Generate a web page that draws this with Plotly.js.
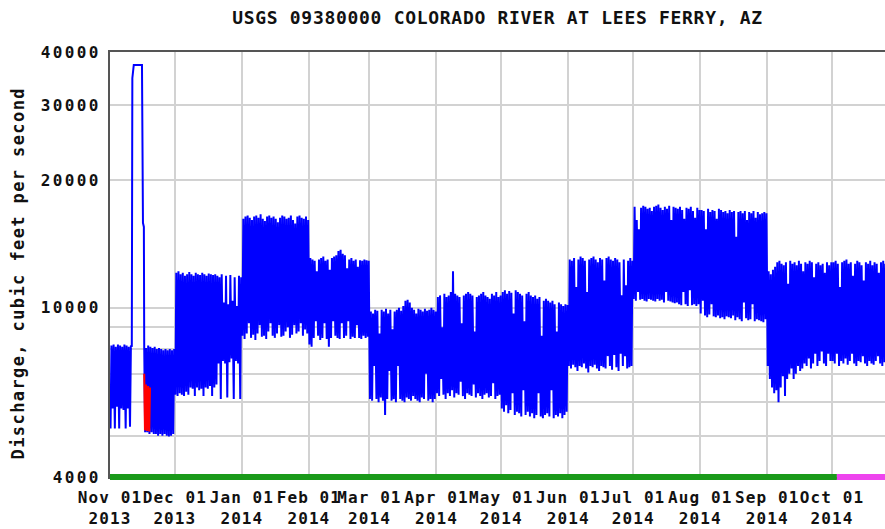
<!DOCTYPE html>
<html><head><meta charset="utf-8">
<script src="https://cdn.plot.ly/plotly-3.0.1.min.js"></script>
<style>
html,body{margin:0;padding:0;overflow:hidden;background:#fff}
#chart .xtick text{letter-spacing:1.1px}
#chart .ytick text{letter-spacing:2.4px}
#chart .gtitle{letter-spacing:0.7px}
#chart .annotation-text{letter-spacing:1.4px}
</style></head><body><div id="chart"></div>
<script>
const stationTitle = 'USGS 09380000 COLORADO RIVER AT LEES FERRY, AZ';
const yTitle = 'Discharge, cubic feet per second';

const monthStarts = ['2013-11-01','2013-12-01','2014-01-01','2014-02-01','2014-03-01','2014-04-01',
  '2014-05-01','2014-06-01','2014-07-01','2014-08-01','2014-09-01','2014-10-01'];
const monthLabels = ['Nov 01<br>2013','Dec 01<br>2013','Jan 01<br>2014','Feb 01<br>2014','Mar 01<br>2014',
  'Apr 01<br>2014','May 01<br>2014','Jun 01<br>2014','Jul 01<br>2014','Aug 01<br>2014','Sep 01<br>2014','Oct 01<br>2014'];
const yTickVals = [4000,5000,6000,7000,8000,9000,10000,20000,30000,40000];
const yTickText = ['4000','','','','','','10000','20000','30000','40000'];
const xRange = ['2013-11-01 00:00','2014-10-25 12:00'];

const novMax = [8150,8200,8100,8200,8150,8100,8200,8150,8100,8150, null,null,null,null,null,null,
  8050,8150,8100,8050,8100,8000,8050,8000,7950,8000,7950,8000,7950,8000];
const novMin = [5200,5800,5200,5850,5200,5800,5750,5200,5800,5250, null,null,null,null,null,null,
  5100,5100,5050,5100,5050,5050,5000,5050,5000,5050,5000,4980,5000,5050];
const decMax = [12100,12200,12000,12100,11900,12000,12150,12000,11900,12100,12000,11950,12100,12000,11900,12050,
  12000,11950,12000,11900,11800,12000,10300,11900,10200,11950,10400,11800,10100,11900,11800];
const decMin = [6250,6200,6300,6250,6200,6350,6250,6500,6450,6200,6500,6400,6450,6200,6500,6450,
  6550,6200,6500,6600,7400,6100,7500,7400,6150,7450,7600,6100,7500,7400,6100];
const janMax = [16200,16400,16500,16300,16100,16400,16500,16300,16600,16200,16000,16400,16500,16300,16400,16200,
  15900,16300,16500,16400,16200,16300,16500,16100,15800,16400,16500,16300,16200,16400,16100];
const janMin = [8600,8450,8700,9200,8500,8650,8400,8700,9100,8550,8600,8450,8800,9200,8600,8500,
  8700,9100,8550,8600,8800,9000,8500,8650,9100,8700,8800,9200,8600,8900,8700];
const febMax = [13100,13000,12900,12200,13000,13100,13200,12900,13000,12300,13100,13200,13300,13600,
  13700,13400,13300,12400,13000,13100,12900,13000,12500,12950,12900,13000,12950,12900];
const febMin = [8200,8100,8500,9300,8600,8400,8500,9200,8450,8100,8500,9300,8600,8500,
  8450,9200,8500,8600,9300,8450,8550,8500,9100,8500,8450,8600,8500,8550];
const marMax = [9800,9700,9900,9850,8700,9900,9800,9950,9700,9900,8900,9800,9900,10000,9850,10100,
  10400,10450,10300,10000,9900,9700,9950,9900,9800,9950,9850,9900,10000,9900,9800];
const marMin = [6100,6050,7300,6100,6000,6150,6050,5600,6100,7100,6050,6100,6000,7300,6100,6050,
  6000,6150,6100,6050,6200,6100,6050,6000,6150,6100,7000,6050,6100,6000,6100];
const aprMax = [10600,10700,9000,10800,10600,10700,10900,12200,10800,10700,10600,9200,10700,10800,10900,
  10800,10700,8800,10600,10700,10800,10900,10700,10600,10500,10800,10700,10900,10600,10700];
const aprMin = [6300,6200,6800,6250,6100,6300,6200,6400,6150,6300,6250,6700,6200,6100,6300,
  6250,6200,6600,6150,6300,6200,6100,6250,6300,6150,6200,6650,6100,6200,6250];
const mayMax = [10900,11000,10800,10950,10850,9700,11000,10900,10800,10700,9300,10800,10900,10700,10600,10700,
  10500,10600,8600,10400,10500,10400,10300,10400,10200,8800,10300,10200,10100,10200,10150];
const mayMin = [5800,5700,5900,5650,5750,6300,5600,5700,5650,5550,6400,5600,5700,5550,5650,5500,
  5600,6300,5550,5500,5600,5650,5550,6400,5500,5600,5550,5650,5500,5600,5700];
const junMax = [13000,12900,13100,11200,13000,13200,13100,12900,10900,13000,13100,13200,13000,12800,13100,
  13000,11600,13100,13200,13000,12900,13100,13000,12800,10700,13000,11300,12900,13100,12900];
const junMin = [7300,7200,7350,7250,7100,7300,7250,7400,7200,7050,7300,7250,7350,7200,7100,
  7300,7250,7200,7700,7300,7150,7750,7250,7100,7800,7300,7700,7200,7250,7300];
const julMax = [17300,16100,15300,17200,17400,17300,17100,17200,16900,17300,17400,17500,17200,17000,17300,17100,
  17400,16100,17300,17200,17100,17300,17000,16200,17200,17100,17300,16900,16300,17200,17000];
const julMin = [10500,10400,10900,10450,10500,10400,10350,10500,10450,10400,10350,10500,10400,10450,10300,10900,
  10400,10350,10300,10250,10300,10200,10150,10900,10200,10100,11000,10150,10200,10100,10200];
const augMax = [17000,16900,15300,17100,16800,17000,16900,16200,17100,17000,16800,16900,16700,17000,16800,16900,
  14700,16800,16900,16700,16900,16100,16800,16700,16900,16300,16800,16600,16700,16800,16700];
const augMin = [9700,10400,9600,9500,9650,10200,9550,9500,9600,9450,9500,9400,9550,9500,9450,9600,
  9350,9500,9400,9300,10300,9450,9350,9400,10200,9300,9400,9350,9300,9250,9400];
const sepMax = [12200,12000,12300,12500,12800,12900,12700,12600,12800,11400,12900,12700,12800,12600,12900,
  12700,12200,12800,12700,12900,12800,11800,12700,12800,12600,12700,12100,12800,12600,12800];
const sepMin = [7300,6800,6500,6300,6400,6000,6500,6900,6200,6800,7000,7200,6800,7000,7300,
  7100,7200,7400,7300,7600,7200,7400,7800,7300,7500,7900,7400,7300,7800,7500];
const octMax = [12800,12900,12700,11200,12800,12900,13000,12700,12800,11900,12700,12900,12800,12600,11600,12800,
  12700,12900,12600,12800,12700,12100,12800,12900,12700,12800,12600,12800,12700,12900,12800];
const octMin = [7500,7400,7800,7300,7500,7400,7600,7350,7500,7800,7400,7300,7500,7450,7700,7400,
  7300,7500,7400,7350,7500,7700,7400,7300,7450,7500,7400,7350,7500,7400,7300];

// November 2013 high-flow experiment
const hfeTimes = ['2013-11-11 02:00','2013-11-11 08:00','2013-11-12 00:00','2013-11-15 19:00',
  '2013-11-16 06:00','2013-11-16 16:00','2013-11-16 20:00'];
const hfeFlow = [8100,34700,37300,37300,15850,15500,8050];

// estimated (red) record
const estTimes = ['2013-11-16 20:00','2013-11-17 04:00','2013-11-17 16:00','2013-11-18 04:00',
  '2013-11-18 16:00','2013-11-19 04:00','2013-11-19 12:00'];
const estFlow = [7000,5150,6600,5130,6550,5120,6500];

// data approval periods (bar along the bottom)
const approvedPeriod = ['2013-11-01','2014-10-03 06:00'];
const provisionalPeriod = ['2014-10-03 06:00','2014-11-01'];

const dailyMax = [novMax,decMax,janMax,febMax,marMax,aprMax,mayMax,junMax,julMax,augMax,sepMax,octMax];
const dailyMin = [novMin,decMin,janMin,febMin,marMin,aprMin,mayMin,junMin,julMin,augMin,sepMin,octMin];

function fmt(ms){ return new Date(ms).toISOString().slice(0,16).replace('T',' '); }
function parse(s){ const p = s.split(/[- :]/).map(Number); return Date.UTC(p[0],p[1]-1,p[2],p[3]||0,p[4]||0); }

const pts = [];
monthStarts.forEach((ms, m) => {
  const t0 = parse(ms);
  dailyMax[m].forEach((mx, i) => {
    const mn = dailyMin[m][i];
    if (mx == null) return;
    const d = t0 + i*86400000;
    pts.push([d + 6*3600000, mn]);
    pts.push([d + 16*3600000, mx]);
  });
});
hfeTimes.forEach((t, i) => pts.push([parse(t), hfeFlow[i]]));
pts.sort((a,b) => a[0]-b[0]);

const traces = [
  {x: pts.map(p => fmt(p[0])), y: pts.map(p => p[1]), type:'scatter', mode:'lines',
   line:{color:'#0000ff', width:2}, hoverinfo:'skip', showlegend:false},
  {x: estTimes, y: estFlow, type:'scatter', mode:'lines',
   line:{color:'#ff0000', width:2}, hoverinfo:'skip', showlegend:false}
];

const font = {family:'DejaVu Sans Mono', color:'#111'};
const layout = {
  width:885, height:529,
  margin:{l:110, r:0, t:52, b:52},
  paper_bgcolor:'#fff', plot_bgcolor:'#fff',
  showlegend:false,
  title:{text:stationTitle, x:0.5, xref:'paper', y:1-18/529, yref:'container', yanchor:'middle',
    font:Object.assign({}, font, {size:18, weight:'bold'})},
  xaxis:{type:'date', range:xRange, tickmode:'array', tickvals:monthStarts, ticktext:monthLabels,
    tickangle:0, ticks:'', showgrid:true, gridcolor:'#d2d2d2', gridwidth:2,
    showline:true, mirror:true, linecolor:'#555', linewidth:2, zeroline:false,
    tickfont:Object.assign({}, font, {size:16, weight:'bold'}), ticklabelstandoff:5},
  yaxis:{type:'log', range:[Math.log10(4000), Math.log10(40000)], tickmode:'array',
    tickvals:yTickVals, ticktext:yTickText, ticks:'', showgrid:true, gridcolor:'#d2d2d2', gridwidth:2,
    showline:true, linecolor:'#555', linewidth:2, zeroline:false, ticklabelstandoff:4,
    tickfont:Object.assign({}, font, {size:16, weight:'bold'})},
  annotations:[
    {text:yTitle, textangle:-90, xref:'paper', yref:'paper', x:-(110-18)/775, y:(477-273)/425,
     xanchor:'center', yanchor:'middle', showarrow:false,
     font:Object.assign({}, font, {size:17, weight:'bold'})}
  ],
  shapes:[
    {type:'line', xref:'x', yref:'paper', x0:approvedPeriod[0], x1:approvedPeriod[1], y0:0, y1:0,
     line:{color:'#1a9a1a', width:6}, layer:'above'},
    {type:'line', xref:'x', yref:'paper', x0:provisionalPeriod[0], x1:provisionalPeriod[1], y0:0, y1:0,
     line:{color:'#ee44ee', width:6}, layer:'above'}
  ]
};
Plotly.newPlot('chart', traces, layout, {staticPlot:true, displayModeBar:false});
</script></body></html>
